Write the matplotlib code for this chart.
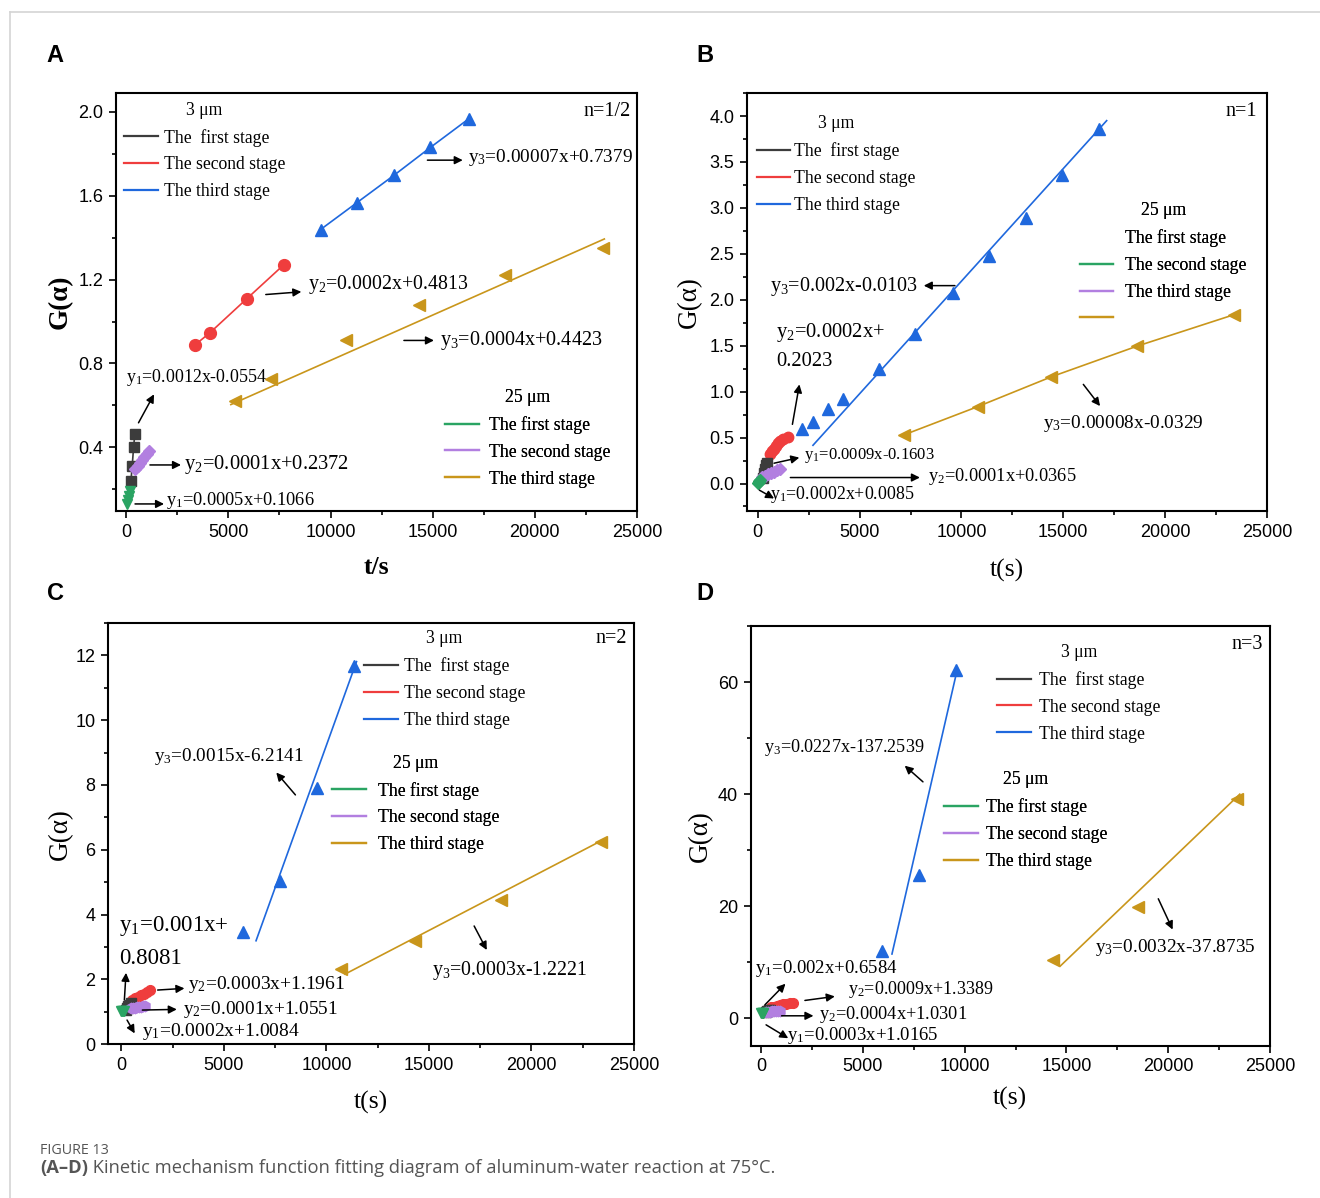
import matplotlib
matplotlib.use("Agg")
import matplotlib.pyplot as plt
from matplotlib.lines import Line2D
from matplotlib.ticker import MultipleLocator, AutoMinorLocator

SERIF = ['Liberation Serif', 'DejaVu Serif']
plt.rcParams['font.family'] = SERIF
plt.rcParams['mathtext.fontset'] = 'custom'
plt.rcParams['mathtext.rm'] = 'Liberation Serif'
plt.rcParams['mathtext.it'] = 'Liberation Serif:italic'

BLACK = '#3c3c3c'
RED = '#ef3d3d'
BLUE = '#1f68dd'
GREEN = '#2aa463'
PURPLE = '#b27fe0'
GOLD = '#c9961b'

# ---------------- (A) n = 1/2 ----------------
A_3um_1_t = [230, 290, 360, 420]
A_3um_1_g = [0.24, 0.31, 0.40, 0.465]
A_3um_2_t = [3370, 4100, 5890, 7700]
A_3um_2_g = [0.889, 0.947, 1.108, 1.270]
A_3um_3_t = [9510, 11300, 13120, 14890, 16760]
A_3um_3_g = [1.439, 1.568, 1.699, 1.831, 1.967]
A_25um_1_t = [40, 80, 120, 160]
A_25um_1_g = [0.128, 0.150, 0.170, 0.190]
A_25um_2_t = [450, 560, 670, 780, 890, 1000, 1100]
A_25um_2_g = [0.296, 0.310, 0.325, 0.340, 0.355, 0.370, 0.384]
A_25um_3_t = [5310, 7100, 10740, 14350, 18540, 23340]
A_25um_3_g = [0.620, 0.727, 0.913, 1.077, 1.221, 1.353]
A_25um_3_fit_t = [5120, 23400]
A_25um_3_fit_g = [0.604, 1.394]

# ---------------- (B) n = 1 ----------------
B_3um_1_t = [250, 300, 350, 400, 430]
B_3um_1_g = [0.065, 0.11, 0.16, 0.20, 0.228]
B_3um_2_t = [610, 700, 800, 900, 1000, 1100, 1250, 1470]
B_3um_2_g = [0.318, 0.35, 0.38, 0.41, 0.44, 0.46, 0.48, 0.51]
B_3um_3_t = [2180, 2710, 3440, 4160, 5960, 7735, 9570, 11345, 13160, 14935, 16750]
B_3um_3_g = [0.597, 0.670, 0.807, 0.916, 1.242, 1.629, 2.074, 2.472, 2.889, 3.356, 3.855]
B_3um_3_fit_t = [2710, 17130]
B_3um_3_fit_g = [0.416, 3.95]
B_25um_1_t = [0, 40, 80, 120]
B_25um_1_g = [0.010, 0.017, 0.025, 0.033]
B_25um_2_t = [200, 350, 500, 650, 800, 950, 1080]
B_25um_2_g = [0.07, 0.085, 0.10, 0.115, 0.13, 0.145, 0.16]
B_25um_3_t = [7160, 10790, 14420, 18620, 23400]
B_25um_3_g = [0.528, 0.836, 1.162, 1.495, 1.839]

# ---------------- (C) n = 2 ----------------
C_3um_1_t = [250, 300, 350, 400, 450]
C_3um_1_g = [1.06, 1.11, 1.16, 1.21, 1.26]
C_3um_2_t = [500, 650, 800, 950, 1100, 1250, 1420]
C_3um_2_g = [1.36, 1.41, 1.46, 1.50, 1.55, 1.60, 1.66]
C_3um_3_t = [5930, 7720, 9550, 11340]
C_3um_3_g = [3.45, 5.05, 7.90, 11.68]
C_3um_3_fit_t = [6570, 11470]
C_3um_3_fit_g = [3.19, 11.81]
C_25um_1_t = [0, 40, 80, 120]
C_25um_1_g = [1.010, 1.016, 1.024, 1.032]
C_25um_2_t = [450, 550, 650, 750, 850, 950, 1050, 1150]
C_25um_2_g = [1.10, 1.11, 1.12, 1.13, 1.14, 1.15, 1.16, 1.17]
C_25um_3_t = [10730, 14330, 18530, 23380]
C_25um_3_g = [2.32, 3.19, 4.45, 6.25]
C_25um_3_fit_t = [10910, 23380]
C_25um_3_fit_g = [2.16, 6.27]

# ---------------- (D) n = 3 ----------------
D_3um_1_t = [250, 300, 350, 400, 450]
D_3um_1_g = [1.16, 1.26, 1.36, 1.46, 1.56]
D_3um_2_t = [500, 650, 800, 950, 1100, 1250, 1400, 1550]
D_3um_2_g = [2.0, 2.1, 2.25, 2.4, 2.5, 2.6, 2.75, 2.85]
D_3um_3_t = [5950, 7780, 9550]
D_3um_3_g = [12.0, 25.5, 62.1]
D_3um_3_fit_t = [6430, 9590]
D_3um_3_fit_g = [11.5, 61.5]
D_25um_1_t = [0, 40, 80, 120]
D_25um_1_g = [1.0, 1.03, 1.04, 1.05]
D_25um_2_t = [250, 350, 450, 550, 650, 750, 850, 950]
D_25um_2_g = [1.13, 1.17, 1.21, 1.25, 1.29, 1.33, 1.37, 1.41]
D_25um_3_t = [14340, 18535, 23360]
D_25um_3_g = [10.4, 19.9, 39.1]
D_25um_3_fit_t = [14680, 23510]
D_25um_3_fit_g = [9.3, 40.0]

STAGES_3UM = ['The  first stage', 'The second stage', 'The third stage']
STAGES_25UM = ['The first stage', 'The second stage', 'The third stage']


def series(ax, t, g, color, marker, ms, fit_t=None, fit_g=None):
    if fit_t is None:
        ax.plot(t, g, color=color, lw=1.2, marker=marker, ms=ms, zorder=3)
    else:
        ax.plot(fit_t, fit_g, color=color, lw=1.2, zorder=2)
        ax.plot(t, g, ls='none', color=color, marker=marker, ms=ms, zorder=3)


def arrow(ax, tail, tip):
    ax.annotate('', xy=tip, xytext=tail,
                arrowprops=dict(arrowstyle='-|>', color='black', lw=1.1,
                                mutation_scale=12, shrinkA=0, shrinkB=0))


def equation(ax, text, pos, fs, tail=None, tip=None):
    ax.text(pos[0], pos[1], text, fontsize=fs, ha='left', va='center', zorder=5)
    if tail is not None:
        arrow(ax, tail, tip)


def stage_legend(ax, title, colors, labels, anchor, pad):
    handles = [Line2D([], [], color=c, lw=1.6) for c in colors]
    leg = ax.legend(handles, labels, title=title, loc='upper left',
                    bbox_to_anchor=anchor, frameon=False, fontsize=12.7,
                    title_fontsize=12.7, handlelength=1.9, handletextpad=pad,
                    labelspacing=0.56, borderpad=0, borderaxespad=0)
    ax.add_artist(leg)


def style(ax, xlim, ylim, ystep):
    ax.set_xlim(*xlim)
    ax.set_ylim(*ylim)
    ax.xaxis.set_major_locator(MultipleLocator(5000))
    ax.xaxis.set_minor_locator(AutoMinorLocator(2))
    ax.yaxis.set_major_locator(MultipleLocator(ystep))
    ax.yaxis.set_minor_locator(AutoMinorLocator(2))
    ax.tick_params(which='both', direction='out', top=False, right=False,
                   width=1.2, labelsize=13, pad=4, labelfontfamily='Liberation Sans')
    ax.tick_params(which='major', length=5)
    ax.tick_params(which='minor', length=3)
    for s in ax.spines.values():
        s.set_linewidth(1.5)


def labels(ax, xlabel, xlab_y, ylab_x, bold=False):
    w = 'bold' if bold else 'normal'
    ax.set_xlabel(xlabel, fontsize=18.5, fontweight=w, va='center')
    ax.set_ylabel('G(α)', fontsize=19.5, fontweight=w, va='center')
    ax.xaxis.set_label_coords(0.5, xlab_y)
    ax.yaxis.set_label_coords(ylab_x, 0.5)


fig = plt.figure(figsize=(13.2, 11.98), dpi=100)
axA = fig.add_axes([0.0879, 0.5734, 0.3947, 0.3489])
axB = fig.add_axes([0.5659, 0.5734, 0.3939, 0.3489])
axC = fig.add_axes([0.0818, 0.1285, 0.3985, 0.3514])
axD = fig.add_axes([0.5686, 0.1269, 0.3936, 0.3506])

# ---- A ----
ax = axA
series(ax, A_3um_3_t, A_3um_3_g, BLUE, '^', 9)
series(ax, A_3um_2_t, A_3um_2_g, RED, 'o', 8.5)
series(ax, A_25um_3_t, A_25um_3_g, GOLD, '<', 8, A_25um_3_fit_t, A_25um_3_fit_g)
series(ax, A_3um_1_t, A_3um_1_g, BLACK, 's', 6.5)
series(ax, A_25um_2_t, A_25um_2_g, PURPLE, 'D', 6)
series(ax, A_25um_1_t, A_25um_1_g, GREEN, 'v', 7.5)
style(ax, (-500, 25000), (0.096, 2.09), 0.4)
labels(ax, 't/s', -0.134, -0.1075, bold=True)
equation(ax, 'y$_1$=0.0012x-0.0554', (-25, 0.733), 12.9, (600, 0.517), (1360, 0.653))
equation(ax, 'y$_2$=0.0001x+0.2372', (2810, 0.318), 14.8, (1160, 0.316), (2680, 0.316))
equation(ax, 'y$_1$=0.0005x+0.1066', (1930, 0.148), 13.2, (430, 0.13), (1850, 0.13))
equation(ax, 'y$_2$=0.0002x+0.4813', (8900, 1.175), 14.3, (6830, 1.129), (8570, 1.142))
equation(ax, 'y$_3$=0.0004x+0.4423', (15340, 0.91), 14.5, (13590, 0.91), (15060, 0.91))
equation(ax, 'y$_3$=0.00007x+0.7379', (16720, 1.783), 13.9, (14740, 1.770), (16470, 1.770))
ax.text(0.987, 0.957, 'n=1/2', transform=ax.transAxes, ha='right', va='center', fontsize=14.5)
stage_legend(ax, '3 μm', [BLACK, RED, BLUE], STAGES_3UM, (0.0154, 0.979), 0.34)
stage_legend(ax, '25 μm', [GREEN, PURPLE, GOLD], STAGES_25UM, (0.6315, 0.292), 0.57)

# ---- B ----
ax = axB
series(ax, B_3um_3_t, B_3um_3_g, BLUE, '^', 9, B_3um_3_fit_t, B_3um_3_fit_g)
series(ax, B_25um_3_t, B_25um_3_g, GOLD, '<', 9)
series(ax, B_3um_2_t, B_3um_2_g, RED, 'o', 7.5)
series(ax, B_3um_1_t, B_3um_1_g, BLACK, 's', 6.5)
series(ax, B_25um_2_t, B_25um_2_g, PURPLE, 'D', 6)
series(ax, B_25um_1_t, B_25um_1_g, GREEN, 'D', 6)
style(ax, (-530, 25000), (-0.30, 4.25), 0.5)
labels(ax, 't(s)', -0.141, -0.110)
equation(ax, 'y$_3$=0.002x-0.0103', (611, 2.147), 14.5, (9680, 2.154), (8150, 2.154))
equation(ax, 'y$_2$=0.0002x+', (898, 1.640), 14.8)
equation(ax, '0.2023', (898, 1.332), 14.8)
arrow(ax, (1700, 0.644), (2044, 1.079))
equation(ax, 'y$_1$=0.0009x-0.1603', (2290, 0.300), 12.0, (800, 0.221), (2040, 0.282))
equation(ax, 'y$_2$=0.0001x+0.0365', (8350, 0.076), 13.2, (1600, 0.065), (7960, 0.065))
equation(ax, 'y$_1$=0.0002x+0.0085', (611, -0.123), 12.9, (76, -0.072), (800, -0.163))
equation(ax, 'y$_3$=0.00008x-0.0329', (13980, 0.652), 13.9, (15985, 1.079), (16807, 0.843))
ax.text(0.981, 0.957, 'n=1', transform=ax.transAxes, ha='right', va='center', fontsize=14.5)
stage_legend(ax, '3 μm', [BLACK, RED, BLUE], STAGES_3UM, (0.019, 0.947), 0.23)
stage_legend(ax, '25 μm', ['none', GREEN, PURPLE, GOLD], STAGES_25UM + [''], (0.640, 0.739), 0.68)

# ---- C ----
ax = axC
series(ax, C_3um_3_t, C_3um_3_g, BLUE, '^', 9, C_3um_3_fit_t, C_3um_3_fit_g)
series(ax, C_25um_3_t, C_25um_3_g, GOLD, '<', 8, C_25um_3_fit_t, C_25um_3_fit_g)
series(ax, C_3um_2_t, C_3um_2_g, RED, 'o', 7)
series(ax, C_3um_1_t, C_3um_1_g, BLACK, 's', 6.5)
series(ax, C_25um_2_t, C_25um_2_g, PURPLE, 'h', 7.5)
series(ax, C_25um_1_t, C_25um_1_g, GREEN, 'v', 7)
style(ax, (-650, 25000), (0, 13), 2)
labels(ax, 't(s)', -0.138, -0.091)
equation(ax, 'y$_3$=0.0015x-6.2141', (1586, 8.879), 13.8, (8490, 7.694), (7557, 8.384))
equation(ax, 'y$_1$=0.001x+', (-93, 3.646), 16.5)
equation(ax, '0.8081', (-93, 2.647), 16.5)
arrow(ax, (149, 1.359), (230, 2.2))
equation(ax, 'y$_2$=0.0003x+1.1961', (3266, 1.854), 14.0, (1773, 1.668), (3079, 1.720))
equation(ax, 'y$_2$=0.0001x+1.0551', (3023, 1.071), 13.9, (1026, 1.05), (2706, 1.071))
equation(ax, 'y$_1$=0.0002x+1.0084', (1026, 0.381), 14.0, (280, 0.741), (653, 0.329))
equation(ax, 'y$_3$=0.0003x-1.2221', (15152, 2.286), 14.3, (17205, 3.646), (17821, 2.904))
ax.text(0.987, 0.964, 'n=2', transform=ax.transAxes, ha='right', va='center', fontsize=14.5)
stage_legend(ax, '3 μm', [BLACK, RED, BLUE], STAGES_3UM, (0.487, 0.983), 0.34)
stage_legend(ax, '25 μm', [GREEN, PURPLE, GOLD], STAGES_25UM, (0.426, 0.687), 0.68)

# ---- D ----
ax = axD
series(ax, D_3um_3_t, D_3um_3_g, BLUE, '^', 9, D_3um_3_fit_t, D_3um_3_fit_g)
series(ax, D_25um_3_t, D_25um_3_g, GOLD, '<', 8, D_25um_3_fit_t, D_25um_3_fit_g)
series(ax, D_3um_2_t, D_3um_2_g, RED, 'o', 7)
series(ax, D_3um_1_t, D_3um_1_g, BLACK, 's', 6.5)
series(ax, D_25um_2_t, D_25um_2_g, PURPLE, 'h', 7.5)
series(ax, D_25um_1_t, D_25um_1_g, GREEN, 'v', 7)
style(ax, (-515, 25000), (-4.9, 70), 20)
labels(ax, 't(s)', -0.126, -0.096)
equation(ax, 'y$_3$=0.0227x-137.2539', (153, 48.36), 13.1, (7952, 42.2), (7056, 45.08))
equation(ax, 'y$_1$=0.002x+0.6584', (-286, 9.0), 13.5, (191, 2.44), (1201, 6.2))
equation(ax, 'y$_2$=0.0009x+1.3389', (4291, 5.13), 13.0, (2155, 3.22), (3623, 3.94))
equation(ax, 'y$_2$=0.0004x+1.0301', (2861, 0.78), 13.2, (1011, 0.48), (2574, 0.48))
equation(ax, 'y$_1$=0.0003x+1.0165', (1278, -3.10), 13.5, (248, -1.13), (1335, -3.52))
equation(ax, 'y$_3$=0.0032x-37.8735', (16400, 12.58), 13.9, (19509, 21.35), (20214, 15.86))
ax.text(0.987, 0.957, 'n=3', transform=ax.transAxes, ha='right', va='center', fontsize=14.5)
stage_legend(ax, '3 μm', [BLACK, RED, BLUE], STAGES_3UM, (0.475, 0.957), 0.45)
stage_legend(ax, '25 μm', [GREEN, PURPLE, GOLD], STAGES_25UM, (0.373, 0.654), 0.45)

# panel letters
for letter, (x, y) in zip('ABCD', [(55, 55), (705, 55), (55, 593), (705, 593)]):
    fig.text(x / 1320, 1 - y / 1198, letter, fontsize=17, fontweight='bold',
             family='Liberation Sans', ha='center', va='center')

# page frame
fig.add_artist(Line2D([10 / 1320, 1], [1 - 12 / 1198] * 2, color='#d4d4d4', lw=1.2))
fig.add_artist(Line2D([10 / 1320] * 2, [0, 1 - 12 / 1198], color='#d4d4d4', lw=1.2))

# caption
CAP = ['Open Sans', 'DejaVu Sans']
fig.text(40 / 1320, 1 - 1150 / 1198, 'FIGURE 13', fontsize=10.3, color='#555555',
         family=CAP, va='center')
head = fig.text(40 / 1320, 1 - 1168 / 1198, '(A–D)', fontsize=13.2, fontweight='bold',
                color='#555555', family=CAP, va='center')
fig.canvas.draw()
bb = head.get_window_extent()
fig.text(bb.x1 / fig.bbox.width, 1 - 1168 / 1198,
         ' Kinetic mechanism function fitting diagram of aluminum-water reaction at 75°C.',
         fontsize=13.2, color='#555555', family=CAP, va='center')

fig.savefig('out.png', dpi=100)
